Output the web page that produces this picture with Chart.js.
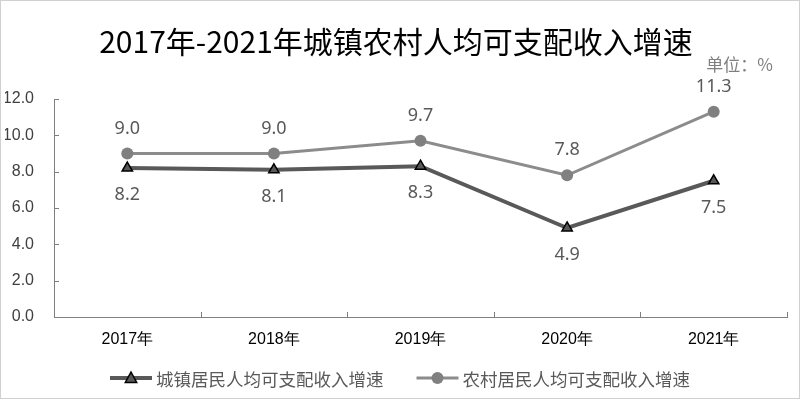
<!DOCTYPE html>
<html><head><meta charset="utf-8">
<script src="https://cdn.jsdelivr.net/npm/chart.js@4/dist/chart.umd.min.js"></script>
<style>
html,body{margin:0;padding:0;background:#fff;}
#wrap{position:relative;width:798px;height:397px;border:1px solid #d0d0d0;}
</style></head><body>
<div id="wrap"><canvas id="c" width="798" height="397"></canvas></div>
<script>
const categories = ['2017年','2018年','2019年','2020年','2021年'];
const urbanName = '城镇居民人均可支配收入增速';
const ruralName = '农村居民人均可支配收入增速';
const urbanValues = [8.2, 8.1, 8.3, 4.9, 7.5];
const ruralValues = [9.0, 9.0, 9.7, 7.8, 11.3];
const titleText = '2017年-2021年城镇农村人均可支配收入增速';
const unitText = '单位：%';

const urbanColor = '#595959';
const ruralColor = '#8c8c8c';
const cjk = '"Noto Sans CJK SC", sans-serif';

function drawTriangle(g, x, y, r){
  g.beginPath(); g.moveTo(x, y - r); g.lineTo(x + r*0.95, y + r*0.75); g.lineTo(x - r*0.95, y + r*0.75); g.closePath();
}

const labelPlugin = {
  id:'valueLabels',
  afterDatasetsDraw(chart){
    const ctx = chart.ctx;
    ctx.save();
    ctx.font = '18px "Noto Sans", "Liberation Sans", sans-serif';
    ctx.fillStyle = '#595959';
    ctx.textAlign = 'center';
    ctx.textBaseline = 'middle';
    chart.data.datasets.forEach((ds, i) => {
      const meta = chart.getDatasetMeta(i);
      meta.data.forEach((pt, j) => {
        const off = ds.labelPos === 'above' ? -25 : 27;
        ctx.fillText(ds.data[j].toFixed(1), pt.x, pt.y + off);
      });
    });
    ctx.restore();
  }
};

const decorPlugin = {
  id:'decor',
  afterDraw(chart){
    const ctx = chart.ctx, a = chart.chartArea;
    const ys = chart.scales.y, xs = chart.scales.x;
    ctx.save();
    // inner tick marks
    ctx.strokeStyle = '#7f7f7f'; ctx.lineWidth = 1;
    ctx.beginPath();
    ys.ticks.forEach((t, i) => {
      const y = Math.round(ys.getPixelForTick(i)) + 0.5;
      ctx.moveTo(a.left, y); ctx.lineTo(a.left + 5, y);
    });
    const n = xs.ticks.length;
    for(let i = 0; i <= n; i++){
      const x = Math.round(a.left + (a.right - a.left) * i / n) + 0.5;
      ctx.moveTo(x, a.bottom); ctx.lineTo(x, a.bottom - 5);
    }
    ctx.stroke();
    // unit text
    ctx.font = '17px ' + cjk;
    ctx.fillStyle = '#7f7f7f';
    ctx.textAlign = 'right'; ctx.textBaseline = 'middle';
    ctx.fillText(unitText, a.right - 14, 64);
    // legend
    ctx.font = '17.5px ' + cjk;
    ctx.textAlign = 'left';
    const ds = chart.data.datasets;
    const iconW = 42, gapIcon = 4, gapItem = 33;
    const w0 = ctx.measureText(ds[0].label).width, w1 = ctx.measureText(ds[1].label).width;
    const total = iconW*2 + gapIcon*2 + w0 + w1 + gapItem;
    let x = chart.width/2 - total/2;
    const y = chart.height - 20;
    ds.forEach((d, i) => {
      ctx.lineCap = 'butt';
      ctx.strokeStyle = d.borderColor; ctx.lineWidth = d.borderWidth;
      ctx.beginPath(); ctx.moveTo(x, y); ctx.lineTo(x + iconW, y); ctx.stroke();
      if(d.pointStyle === 'triangle'){
        ctx.fillStyle = d.pointBackgroundColor; ctx.strokeStyle = d.pointBorderColor; ctx.lineWidth = d.pointBorderWidth;
        drawTriangle(ctx, x + iconW/2, y, d.pointRadius);
        ctx.fill(); ctx.stroke();
      } else {
        ctx.fillStyle = d.pointBackgroundColor;
        ctx.beginPath(); ctx.arc(x + iconW/2, y, d.pointRadius, 0, Math.PI*2); ctx.fill();
      }
      x += iconW + gapIcon;
      ctx.fillStyle = '#595959';
      ctx.fillText(d.label, x, y + 1);
      x += (i === 0 ? w0 : w1) + gapItem;
    });
    ctx.restore();
  }
};

new Chart(document.getElementById('c'), {
  type:'line',
  data:{
    labels: categories,
    datasets:[
      {label: urbanName, data: urbanValues, borderColor: urbanColor, borderWidth: 4,
       pointStyle:'triangle', pointRadius:6, pointBackgroundColor:'#595959', pointBorderColor:'#000', pointBorderWidth:1.5,
       labelPos:'below', tension:0},
      {label: ruralName, data: ruralValues, borderColor: ruralColor, borderWidth: 3,
       pointStyle:'circle', pointRadius:6, pointBackgroundColor:'#808080', pointBorderColor:'#808080', pointBorderWidth:0,
       labelPos:'above', tension:0}
    ]
  },
  options:{
    responsive:false,
    animation:false,
    layout:{padding:{left:4, right:12, top:0, bottom:41}},
    plugins:{
      title:{display:true, text:titleText, color:'#000',
        font:{size:30, family:cjk, weight:'normal', lineHeight:1.0},
        padding:{top:26, bottom:42}},
      legend:{display:false},
      tooltip:{enabled:false}
    },
    scales:{
      x:{offset:true,
        afterFit(s){ s.height = 40; },
        grid:{display:false},
        border:{display:true, color:'#7f7f7f', width:1},
        ticks:{color:'#000', padding:5, font:{size:16, family:'"Liberation Sans", sans-serif'}}},
      y:{min:0, max:12,
        afterFit(s){ s.width = 49; },
        grid:{display:false},
        border:{display:true, color:'#7f7f7f', width:1},
        ticks:{stepSize:2, color:'#404040', padding:12, callback:v=>v.toFixed(1),
          font:{size:16, family:'"Liberation Sans", sans-serif'}}}
    }
  },
  plugins:[labelPlugin, decorPlugin]
});
</script></body></html>
